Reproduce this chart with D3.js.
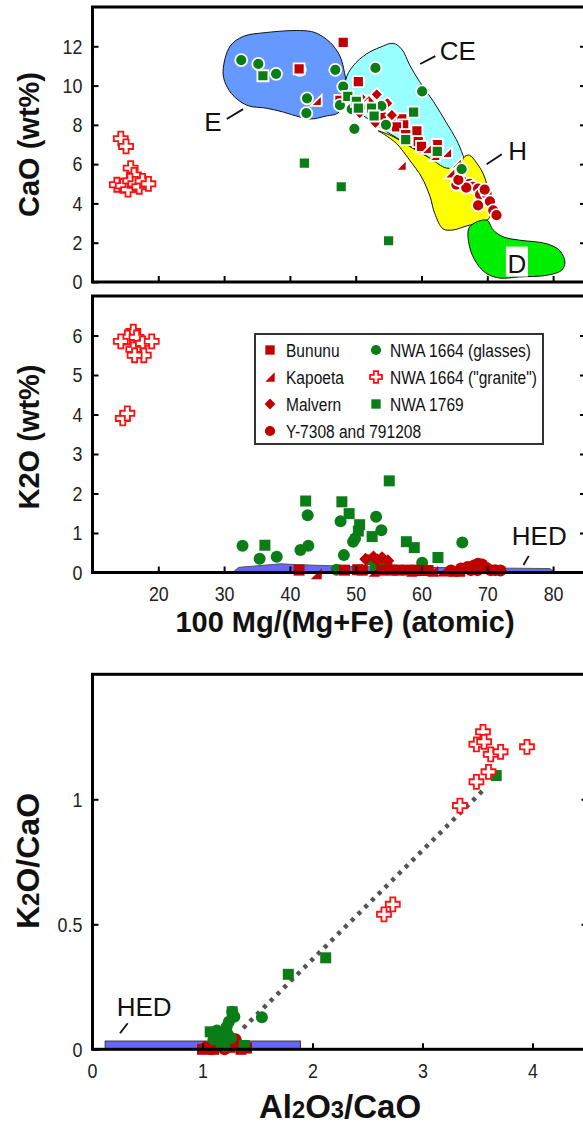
<!DOCTYPE html>
<html lang="en">
<head>
<meta charset="UTF-8">
<title>CaO, K2O and Al2O3/CaO in HED glasses</title>
<script src="https://d3js.org/d3.v7.min.js"></script>
<style>
  body { margin: 0; background: #fff; }
  svg { display: block; }
  .tick text { font-family: 'Liberation Sans', Arial, sans-serif; font-size: 21px; fill: #222; }
  .tick line { stroke: #000; stroke-width: 2px; }
  .frame { fill: none; stroke: #000; stroke-width: 3px; }
  .title { font-family: 'Liberation Sans', Arial, sans-serif; font-weight: bold; font-size: 29px; fill: #111; }
  .note { font-family: 'Liberation Sans', Arial, sans-serif; font-size: 26px; fill: #111; }
  .legend text { font-family: 'Liberation Sans', Arial, sans-serif; font-size: 18.5px; fill: #111; }
</style>
</head>
<body>
<script>
// ---- data: [100 Mg/(Mg+Fe), CaO wt%] ----
const caBununu = [[48.1,12.2],[50.4,10.2],[41.4,10.85],[54.7,8.4],[55.9,8.2],[57.0,8.3],[57.3,8.0],[56.2,7.9],[59.3,7.7],[57.6,7.5],[59.5,7.15],[60.0,6.9],[62.4,7.0],[53.9,8.4],[47.6,9.25]];
const caKapoeta = [[44.0,9.25],[56.9,5.95],[63.8,6.6],[62.0,6.45],[65.3,6.05],[64.3,5.55],[51.0,9.0],[60.8,6.8]];
const caMalvern = [[53.2,9.55],[54.8,9.1],[51.1,9.3],[50.6,8.6],[53.0,8.1],[52.0,9.2],[55.5,8.5]];
const caY7308 = [[65.3,4.95],[66.3,5.1],[67.3,5.0],[67.8,4.85],[68.6,4.75],[69.4,4.6],[68.9,4.45],[69.9,4.5],[70.4,4.1],[68.6,3.9],[70.9,3.65],[71.4,3.4],[69.6,4.7],[66.8,4.8],[65.6,5.2]];
const caGlass = [[32.6,11.3],[35.2,11.1],[37.9,10.6],[41.5,10.8],[46.9,10.8],[42.6,9.35],[42.5,8.6],[48.1,9.95],[53.0,10.9],[60.1,9.7],[47.6,9.0],[49.8,7.8],[49.4,8.8],[53.9,8.95],[54.6,8.0],[66.1,5.75],[50.3,9.1]];
const caGranite = [[14.3,7.3],[15.1,6.9],[15.8,5.8],[16.3,5.45],[13.7,4.95],[14.6,4.9],[15.4,4.7],[15.7,5.15],[16.5,5.0],[17.1,4.85],[17.6,5.15],[18.5,5.0]];
const ca1769 = [[35.9,10.5],[42.2,6.05],[47.8,4.85],[55.0,2.1],[48.8,9.45],[50.1,9.2],[50.4,8.85],[52.4,8.85],[52.8,8.45],[58.8,8.65],[57.6,7.25],[62.4,6.65]];

// HED lithology fields (E = eucrite, CE = cumulate eucrite, H = howardite, D = diogenite)
const fieldE = [[29.85,10.8],[30.9,12.0],[32.9,12.5],[36.4,12.7],[41.5,12.8],[43.8,12.7],[46.1,12.2],[47.6,11.5],[48.3,10.65],[48.6,9.95],[48.1,9.1],[47.3,8.6],[45.5,8.45],[43.3,8.3],[41.5,8.4],[39.0,8.65],[36.4,8.85],[33.9,8.95],[32.4,9.2],[31.1,9.6],[30.1,10.2]];
const fieldCE = [[48.5,10.3],[49.6,11.0],[51.6,11.6],[53.7,11.95],[55.7,12.15],[57.0,11.85],[58.2,11.05],[59.7,10.2],[61.8,9.2],[63.8,8.1],[65.3,7.25],[66.3,6.45],[66.6,6.05],[64.8,5.7],[62.8,5.9],[60.8,6.4],[57.7,7.05],[54.7,7.65],[52.1,8.25],[50.1,8.75],[48.8,9.45]];
const fieldH = [[53.4,7.7],[55.7,7.4],[58.2,6.9],[61.3,6.3],[63.8,5.8],[65.6,5.9],[66.6,6.4],[67.3,6.45],[68.4,6.05],[69.4,5.5],[70.0,4.85],[70.3,4.0],[70.4,3.3],[69.6,3.1],[66.8,2.85],[64.8,2.65],[63.3,2.7],[62.0,3.5],[61.3,4.35],[60.0,5.35],[58.2,6.2],[56.2,7.05],[54.4,7.5]];
const fieldD = [[67.3,2.8],[69.9,3.15],[70.9,2.65],[72.4,2.3],[74.9,2.13],[79.0,1.95],[81.0,1.6],[81.8,1.0],[81.3,0.6],[79.0,0.34],[74.9,0.26],[71.9,0.2],[69.9,0.43],[68.4,0.95],[67.3,1.8]];

// ---- data: [100 Mg/(Mg+Fe), K2O wt%] ----
const kBununu = [[41.4,0.06],[48.3,0.06],[50.3,0.07],[51.0,0.06],[54.0,0.06],[55.5,0.06],[56.4,0.06],[57.8,0.06],[59.2,0.06],[60.0,0.05],[61.0,0.05]];
const kKapoeta = [[44.0,-0.03],[52.8,0.03],[58.5,0.03],[61.7,0.03],[63.2,0.04],[64.8,0.03],[65.8,0.03]];
const kMalvern = [[51.5,0.34],[52.7,0.4],[53.3,0.32],[54.0,0.38],[54.9,0.3]];
const kY7308 = [[64.5,0.05],[66.0,0.1],[67.0,0.14],[67.5,0.06],[68.0,0.18],[68.5,0.06],[68.6,0.22],[69.2,0.2],[69.8,0.12],[70.5,0.06],[71.2,0.06],[72.0,0.05]];
const kGlass = [[32.8,0.68],[35.4,0.35],[38.0,0.4],[41.6,0.57],[42.8,0.68],[42.7,1.45],[47.7,1.3],[48.2,0.44],[49.6,0.78],[49.9,0.86],[53.1,1.41],[53.9,1.07],[54.7,0.19],[47.1,0.07],[60.1,0.25],[66.2,0.76]];
const kGranite = [[16.2,6.1],[15.3,5.95],[14.3,5.85],[16.7,5.95],[17.6,5.8],[19.0,5.85],[16.2,5.65],[17.8,5.5],[16.4,5.5],[14.6,3.9],[15.3,4.03]];
const k1769 = [[36.2,0.69],[42.4,1.81],[47.9,1.79],[49.0,1.49],[50.6,1.21],[50.4,1.05],[52.5,0.91],[55.1,2.32],[57.7,0.78],[58.9,0.63],[62.5,0.38],[52.5,0.32],[53.0,0.15]];
const fieldHEDk = [[31.3,0],[32.2,0.13],[38.6,0.22],[41.0,0.2],[50.0,0.15],[60.0,0.13],[79.5,0.1],[80.2,0.02],[80.2,0]];

// ---- data: [Al2O3/CaO, K2O/CaO] ----
const rBununu = [[1.0,0.0],[1.05,0.01],[1.1,0.0],[1.25,0.008],[1.35,0.0],[1.4,0.005]];
const rKapoeta = [[1.15,0.01],[1.3,0.02],[1.37,0.01]];
const rMalvern = [[1.2,0.02],[1.28,0.03],[1.33,0.025]];
const rY7308 = [[1.12,0.01],[1.18,0.02],[1.22,0.03],[1.3,0.04],[1.08,0.0],[1.2,0.0]];
const rGlass = [[1.54,0.128],[1.24,0.11],[1.29,0.13],[1.22,0.09],[1.13,0.075],[1.10,0.04],[1.20,0.012],[1.26,0.045],[1.16,0.05],[1.27,0.15],[1.23,0.06]];
const rGranite = [[3.55,1.27],[3.49,1.22],[3.56,1.23],[3.62,1.18],[3.71,1.19],[3.95,1.21],[3.60,1.11],[3.49,1.07],[3.34,0.975],[2.65,0.54],[2.73,0.58]];
const r1769 = [[3.67,1.095],[2.12,0.366],[1.78,0.30],[1.38,0.015],[1.07,0.07],[1.27,0.15],[1.17,0.02]];
const rFit = [[1.37,0.085],[3.56,1.04]];
const hedRatio = [[0.115,0],[1.89,0.033]];

const RED = "#c00000", GREEN = "#0b7d16", BRIGHT = "#ff1010";
const style = {
  bununu:  { shape: "square",   fill: RED,   size: 11 },
  kapoeta: { shape: "triangle", fill: RED,   size: 11 },
  malvern: { shape: "diamond",  fill: RED,   size: 11 },
  y7308:   { shape: "circle",   fill: RED,   size: 12 },
  glass:   { shape: "circle",   fill: GREEN, size: 12 },
  granite: { shape: "cross",    fill: "#fff", size: 14, stroke: BRIGHT },
  nwa1769: { shape: "square",   fill: GREEN, size: 11 }
};

function shape(type, s) {
  const h = s / 2;
  if (type === "square") return `M${-h},${-h}H${h}V${h}H${-h}Z`;
  if (type === "circle") return d3.symbol(d3.symbolCircle, Math.PI * h * h)();
  if (type === "diamond") { const k = h * 1.15; return `M0,${-k}L${k},0L0,${k}L${-k},0Z`; }
  if (type === "triangle") return `M${h},${-h}L${h},${h}L${-h},${h}Z`;
  const a = s / 5.5;
  return `M${-a},${-h}H${a}V${-a}H${h}V${a}H${a}V${h}H${-a}V${a}H${-h}V${-a}H${-a}Z`;
}

const svg = d3.select("body").append("svg").attr("width", 583).attr("height", 1124);

const L = 92.5, R = 586;
const xMg = d3.scaleLinear().domain([10, 85]).range([L, R]);
const yCa = d3.scaleLinear().domain([0, 14]).range([282, 7]);
const yK = d3.scaleLinear().domain([0, 7]).range([572.5, 296]);
const xAl = d3.scaleLinear().domain([0, 4.5]).range([L, 587.5]);
const yR = d3.scaleLinear().domain([0, 1.5]).range([1049.3, 674.3]);

function points(g, data, x, y, st, halo) {
  g.append("g").selectAll("path").data(data).join("path")
    .attr("transform", d => `translate(${x(d[0])},${y(d[1])})`)
    .attr("d", shape(st.shape, st.size))
    .attr("fill", st.fill)
    .attr("stroke", st.stroke || (halo ? "#fff" : "none"))
    .attr("stroke-width", 1.8);
}

// narrow look for tick numbers (no narrow font installed)
const narrow = a => a.selectAll(".tick text").attr("transform", "scale(0.85,1)");

function axes(x, y, yTicks, xTicks, showX, yFmt) {
  const g = svg.append("g");
  g.append("g").attr("transform", `translate(${x.range()[0]},0)`)
    .call(d3.axisLeft(y).tickValues(yTicks).tickSize(-6).tickPadding(12).tickFormat(yFmt))
    .call(a => a.select(".domain").remove()).call(narrow);
  g.append("g").attr("transform", `translate(${x.range()[1]},0)`)
    .call(d3.axisRight(y).tickValues(yTicks.filter(v => v > 0)).tickSize(-6).tickFormat(""))
    .call(a => a.select(".domain").remove());
  g.append("g").attr("transform", `translate(0,${y.range()[0]})`)
    .call(d3.axisBottom(x).tickValues(xTicks).tickSize(-6).tickPadding(14).tickFormat(showX ? d3.format("") : ""))
    .call(a => a.select(".domain").remove()).call(narrow);
  g.append("rect").attr("class", "frame")
    .attr("x", x.range()[0]).attr("y", y.range()[1])
    .attr("width", x.range()[1] - x.range()[0]).attr("height", y.range()[0] - y.range()[1]);
}

// ================= panel 1: CaO =================
const p1 = svg.append("g");
const lineC = d3.line().x(d => xMg(d[0])).y(d => yCa(d[1])).curve(d3.curveCatmullRomClosed.alpha(0.5));
[[fieldE, "#6699ff"], [fieldCE, "#99ffff"], [fieldH, "#ffff00"], [fieldD, "#00ee00"]].forEach(([f, c]) => {
  p1.append("path").attr("d", lineC(f)).attr("fill", c).attr("stroke", "#111").attr("stroke-width", 1);
});

points(p1, caGranite, xMg, yCa, style.granite, false);
points(p1, caGlass.slice(0, 10), xMg, yCa, style.glass, true);
points(p1, ca1769.slice(0, 4), xMg, yCa, style.nwa1769, true);
points(p1, caBununu, xMg, yCa, style.bununu, true);
points(p1, caMalvern, xMg, yCa, style.malvern, true);
points(p1, caKapoeta, xMg, yCa, style.kapoeta, true);
points(p1, caY7308, xMg, yCa, style.y7308, true);
points(p1, caGlass.slice(10), xMg, yCa, style.glass, true);
points(p1, ca1769.slice(4), xMg, yCa, style.nwa1769, true);

// field labels with leader lines
const fieldLabels = [
  { t: "E", at: [28.3, 7.7], from: [30.4, 8.3], to: [32.9, 8.8] },
  { t: "CE", at: [65.5, 11.3], from: [59.8, 11.1], to: [62.1, 11.5] },
  { t: "H", at: [74.6, 6.2], from: [69.9, 6.0], to: [72.2, 6.5] }
];
fieldLabels.forEach(d => {
  p1.append("line").attr("x1", xMg(d.from[0])).attr("y1", yCa(d.from[1]))
    .attr("x2", xMg(d.to[0])).attr("y2", yCa(d.to[1])).attr("stroke", "#111").attr("stroke-width", 1.8);
  p1.append("text").attr("class", "note").attr("text-anchor", "middle")
    .attr("x", xMg(d.at[0])).attr("y", yCa(d.at[1])).text(d.t);
});
p1.append("rect").attr("x", xMg(74.5) - 11).attr("y", yCa(0.99) - 16).attr("width", 22).attr("height", 30).attr("fill", "#fff");
p1.append("text").attr("class", "note").attr("text-anchor", "middle")
  .attr("x", xMg(74.5)).attr("y", yCa(0.99) + 10).text("D");

axes(xMg, yCa, d3.range(0, 13, 2), d3.range(20, 81, 10), false, d3.format("d"));

// ================= panel 2: K2O =================
const p2 = svg.append("g");
p2.append("path")
  .attr("d", d3.line().x(d => xMg(d[0])).y(d => yK(d[1]))(fieldHEDk) + "Z")
  .attr("fill", "#6666ff").attr("stroke", "#555").attr("stroke-width", 1);
p2.append("line").attr("x1", xMg(75.5)).attr("y1", yK(0.19)).attr("x2", xMg(76.3)).attr("y2", yK(0.42))
  .attr("stroke", "#111").attr("stroke-width", 1.8);
p2.append("text").attr("class", "note").attr("text-anchor", "middle")
  .attr("x", xMg(77.9)).attr("y", yK(0.7)).text("HED");

points(p2, kGranite, xMg, yK, style.granite, false);
points(p2, kGlass, xMg, yK, style.glass, false);
points(p2, k1769, xMg, yK, style.nwa1769, false);
points(p2, kBununu, xMg, yK, style.bununu, false);
points(p2, kKapoeta, xMg, yK, style.kapoeta, false);
points(p2, kMalvern, xMg, yK, style.malvern, false);
points(p2, kY7308, xMg, yK, style.y7308, false);

axes(xMg, yK, d3.range(0, 7, 1), d3.range(20, 81, 10), true, d3.format("d"));

// legend
const legendItems = [
  { name: "Bununu", st: style.bununu, col: 0, row: 0 },
  { name: "Kapoeta", st: style.kapoeta, col: 0, row: 1 },
  { name: "Malvern", st: style.malvern, col: 0, row: 2 },
  { name: "Y-7308 and 791208", st: style.y7308, col: 0, row: 3 },
  { name: "NWA 1664 (glasses)", st: style.glass, col: 1, row: 0 },
  { name: "NWA 1664 (\"granite\")", st: style.granite, col: 1, row: 1 },
  { name: "NWA 1769", st: style.nwa1769, col: 1, row: 2 }
];
const lg = svg.append("g").attr("class", "legend").attr("transform", "translate(255,334)");
lg.append("rect").attr("width", 288).attr("height", 110).attr("fill", "#fff").attr("stroke", "#333").attr("stroke-width", 2);
const li = lg.selectAll("g.item").data(legendItems).join("g").attr("class", "item")
  .attr("transform", d => `translate(${d.col ? 121 : 15},${16 + d.row * 27})`);
li.append("path").attr("d", d => shape(d.st.shape, d.st.size * 0.85))
  .attr("fill", d => d.st.fill).attr("stroke", d => d.st.stroke || "none").attr("stroke-width", 1.8);
li.append("text").attr("transform", d => `translate(${d.col ? 14 : 16},6.5) scale(0.84,1)`).text(d => d.name);

// ================= panel 3: K2O/CaO vs Al2O3/CaO =================
const p3 = svg.append("g");
p3.append("rect")
  .attr("x", xAl(hedRatio[0][0])).attr("y", yR(hedRatio[1][1]))
  .attr("width", xAl(hedRatio[1][0]) - xAl(hedRatio[0][0]))
  .attr("height", yR(hedRatio[0][1]) - yR(hedRatio[1][1]))
  .attr("fill", "#6666ff").attr("stroke", "#333").attr("stroke-width", 1);
p3.append("line").attr("x1", xAl(0.25)).attr("y1", yR(0.064)).attr("x2", xAl(0.32)).attr("y2", yR(0.104))
  .attr("stroke", "#111").attr("stroke-width", 1.8);
p3.append("text").attr("class", "note").attr("text-anchor", "middle")
  .attr("x", xAl(0.47)).attr("y", yR(0.135)).text("HED");

p3.append("path").attr("d", d3.line().x(d => xAl(d[0])).y(d => yR(d[1]))(rFit))
  .attr("stroke", "#555").attr("stroke-width", 4.5).attr("stroke-dasharray", "4,5.5").attr("fill", "none");

points(p3, rBununu, xAl, yR, style.bununu, false);
points(p3, rKapoeta, xAl, yR, style.kapoeta, false);
points(p3, rMalvern, xAl, yR, style.malvern, false);
points(p3, rY7308, xAl, yR, style.y7308, false);
points(p3, rGlass, xAl, yR, style.glass, false);
points(p3, r1769, xAl, yR, style.nwa1769, false);
points(p3, rGranite, xAl, yR, style.granite, false);

axes(xAl, yR, [0, 0.5, 1], [1, 2, 3, 4], true, d3.format(""));
// x tick label at 0 (sits on the frame corner)
svg.append("g").attr("class", "tick").append("text")
  .attr("transform", `translate(${xAl(0)},${yR(0) + 14}) scale(0.85,1)`)
  .attr("dy", "0.71em").attr("text-anchor", "middle").text("0");

// ================= axis titles =================
function ytitle(cy, parts, size) {
  const t = svg.append("text").attr("class", "title").attr("text-anchor", "middle")
    .attr("transform", `translate(39,${cy}) rotate(-90)`).style("font-size", size + "px");
  parts.forEach(([s, sub]) => t.append("tspan").style("font-size", sub ? "75%" : null).text(s));
}
ytitle(144.5, [["CaO (wt%)"]], 29);
ytitle(437, [["K2O (wt%)"]], 29);
ytitle(861, [["K"], ["2", true], ["O/CaO"]], 32);

svg.append("text").attr("class", "title").attr("text-anchor", "middle")
  .attr("x", 345).attr("y", 632).text("100 Mg/(Mg+Fe) (atomic)");
const xt = svg.append("text").attr("class", "title").attr("text-anchor", "middle")
  .attr("x", 340).attr("y", 1118).style("font-size", "33px");
[["Al"], ["2", true], ["O"], ["3", true], ["/CaO"]].forEach(([s, sub]) =>
  xt.append("tspan").style("font-size", sub ? "72%" : null).text(s));
</script>
</body>
</html>
